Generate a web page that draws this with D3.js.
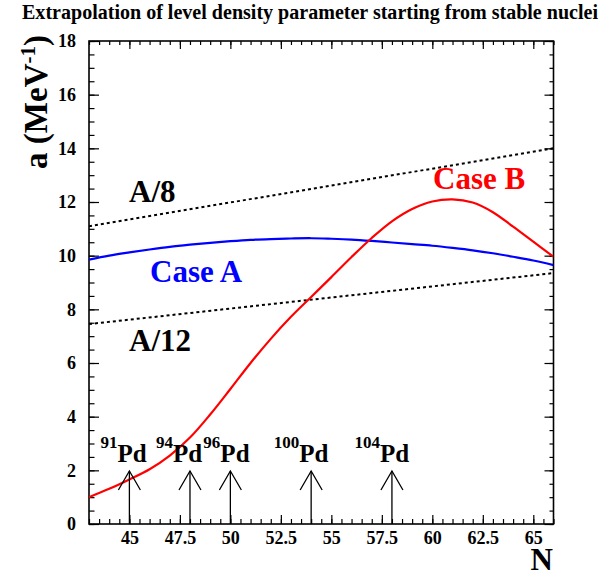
<!DOCTYPE html>
<html><head><meta charset="utf-8">
<script src="https://cdn.jsdelivr.net/npm/d3@7"></script>
<style>
html,body{margin:0;padding:0;background:#fff;}
svg text{font-family:"Liberation Serif","Times New Roman",serif;font-weight:bold;}
</style></head>
<body><svg id="c" width="602" height="577"></svg>
<script>
// ---- data ----
const titleText = "Extrapolation of level density parameter starting from stable nuclei";
const nValues = [43,44,45,46,47,48,49,50,51,52,53,54,55,56,57,58,59,60,61,62,63,64,65,66];
const caseA = [9.85,10.0,10.12,10.23,10.33,10.41,10.48,10.54,10.59,10.62,10.64,10.65,10.63,10.60,10.55,10.49,10.43,10.37,10.29,10.20,10.09,9.96,9.82,9.65];
const caseB = [1.0,1.31,1.66,2.04,2.55,3.22,4.08,5.03,6.0,6.9,7.72,8.46,9.2,9.95,10.66,11.28,11.74,12.02,12.1,11.98,11.62,11.08,10.52,9.96];
const a8N = [43,66], a8 = [11.1,14.0];
const a12N = [43,66], a12 = [7.45,9.35];
const pdN = [45,48,50,54,58];
const pdMass = ["91","94","96","100","104"];
const xTicks = [45,47.5,50,52.5,55,57.5,60,62.5,65];
const xTickLabels = ["45","47.5","50","52.5","55","57.5","60","62.5","65"];
const yTicks = [0,2,4,6,8,10,12,14,16,18];
const yTickLabels = ["0","2","4","6","8","10","12","14","16","18"];
const xDomain = [43,66], yDomain = [0,18];

// ---- layout ----
const L=89, R=553.5, T=41, B=524;
const pdLabelDx = [-12,-17,-10,-12,-12]; // label offset from arrow (px)
const svg = d3.select("#c");
const x = d3.scaleLinear().domain(xDomain).range([L,R]);
const y = d3.scaleLinear().domain(yDomain).range([B,T]);

svg.append("text").attr("x",22).attr("y",19).attr("font-size",20)
  .attr("textLength",576).attr("lengthAdjust","spacingAndGlyphs").text(titleText);

const xMinor = d3.range(xDomain[0], xDomain[1]+0.001, 0.5);
const yMinor = d3.range(yDomain[0], yDomain[1]+0.001, 0.5);

function tickAxis(axisFn, scale, vals, size, tr){
  const g = svg.append("g").attr("transform",tr)
    .call(axisFn(scale).tickValues(vals).tickSize(size).tickFormat(""));
  g.select(".domain").remove();
  g.selectAll("line").attr("stroke","#000").attr("stroke-width",1.2);
}
tickAxis(d3.axisTop, x, xMinor, 5, `translate(0,${B})`);
tickAxis(d3.axisTop, x, xTicks, 9, `translate(0,${B})`);
tickAxis(d3.axisBottom, x, xMinor, 4, `translate(0,${T})`);
tickAxis(d3.axisBottom, x, xTicks, 8, `translate(0,${T})`);
tickAxis(d3.axisRight, y, yMinor, 5.5, `translate(${L},0)`);
tickAxis(d3.axisRight, y, yTicks, 10, `translate(${L},0)`);
tickAxis(d3.axisLeft, y, yMinor, 4, `translate(${R},0)`);
tickAxis(d3.axisLeft, y, yTicks, 9, `translate(${R},0)`);

const xl = svg.append("g").attr("transform",`translate(0,${B})`)
  .call(d3.axisBottom(x).tickValues(xTicks).tickSize(0).tickPadding(7).tickFormat((d,i)=>xTickLabels[i]));
xl.select(".domain").remove();
xl.selectAll("text").attr("font-size",18).attr("font-family",null).attr("fill","#000");
const yl = svg.append("g").attr("transform",`translate(${L},0)`)
  .call(d3.axisLeft(y).tickValues(yTicks).tickSize(0).tickPadding(13).tickFormat((d,i)=>yTickLabels[i]));
yl.select(".domain").remove();
yl.selectAll("text").attr("font-size",18).attr("font-family",null).attr("fill","#000");

svg.append("rect").attr("x",L).attr("y",T).attr("width",R-L).attr("height",B-T)
  .attr("fill","none").attr("stroke","#000").attr("stroke-width",1.6);

svg.append("clipPath").attr("id","clip").append("rect").attr("x",L).attr("y",T).attr("width",R-L).attr("height",B-T);
const plot = svg.append("g").attr("clip-path","url(#clip)");

const lineGen = d3.line().x(d=>x(d[0])).y(d=>y(d[1]));
plot.append("path").datum(a8N.map((n,i)=>[n,a8[i]])).attr("d",lineGen)
  .attr("fill","none").attr("stroke","#000").attr("stroke-width",2).attr("stroke-dasharray","3,3");
plot.append("path").datum(a12N.map((n,i)=>[n,a12[i]])).attr("d",lineGen)
  .attr("fill","none").attr("stroke","#000").attr("stroke-width",2).attr("stroke-dasharray","3,3");
const curve = d3.line().x(d=>x(d[0])).y(d=>y(d[1])).curve(d3.curveCatmullRom);
plot.append("path").datum(nValues.map((n,i)=>[n,caseA[i]])).attr("d",curve)
  .attr("fill","none").attr("stroke","#0000ff").attr("stroke-width",2.2);
plot.append("path").datum(nValues.map((n,i)=>[n,caseB[i]])).attr("d",curve)
  .attr("fill","none").attr("stroke","#ff0000").attr("stroke-width",2.2);

svg.append("text").attr("x",129).attr("y",202).attr("font-size",31).attr("fill","#000").text("A/8");
svg.append("text").attr("x",150).attr("y",282).attr("font-size",31).attr("fill","#0000ff").text("Case A");
svg.append("text").attr("x",129).attr("y",351).attr("font-size",31).attr("fill","#000").text("A/12");
svg.append("text").attr("x",433).attr("y",189).attr("font-size",31).attr("fill","#ff0000").text("Case B");

pdN.forEach((n,i)=>{
  const ax = x(n);
  const g = svg.append("g");
  g.append("line").attr("x1",ax).attr("x2",ax).attr("y1",B).attr("y2",471).attr("stroke","#000").attr("stroke-width",1.3);
  g.append("path").attr("d",`M${ax-11},490L${ax},471L${ax+11},490`).attr("fill","none").attr("stroke","#000").attr("stroke-width",1.3);
  g.append("text").attr("x",ax+pdLabelDx[i]).attr("y",448).attr("text-anchor","end").attr("font-size",17).text(pdMass[i]);
  g.append("text").attr("x",ax+pdLabelDx[i]).attr("y",462).attr("font-size",25).text("Pd");
});

const yt = svg.append("text").attr("transform","translate(47,35) rotate(-90)").attr("text-anchor","end").attr("font-size",33);
yt.append("tspan").text("a (MeV");
yt.append("tspan").attr("font-size",21).attr("dy",-12).text("-1");
yt.append("tspan").attr("dy",12).text(")");
svg.append("text").attr("x",553).attr("y",570).attr("text-anchor","end").attr("font-size",31).text("N");
</script></body></html>
